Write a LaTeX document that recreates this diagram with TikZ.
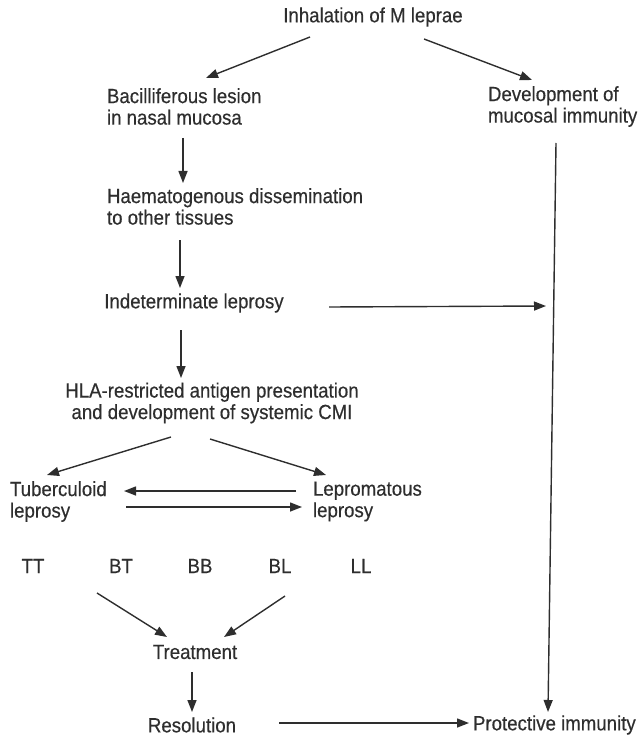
\documentclass[tikz,border=0pt]{standalone}
\usepackage{fontspec}
\setmainfont{Liberation Sans}[FakeStretch=0.91,FakeBold=0.4]
\usetikzlibrary{arrows.meta}
\definecolor{ink}{HTML}{2E2E2E}
\begin{document}
\begin{tikzpicture}[x=1pt,y=-1pt,
  every node/.style={inner sep=0pt,outer sep=0pt,text=ink,font=\fontsize{20.5}{21.5}\selectfont},
  lbl/.style={anchor=west,align=left},
  ctr/.style={anchor=center,align=center},
  arr/.style={draw=ink,line width=1.4pt,-{Triangle[length=12pt,width=9pt]}},
  plain/.style={draw=ink,line width=1.2pt}]
\useasboundingbox (0,0) rectangle (639,738);
% nodes
\node[ctr] (inh) at (373,17) {Inhalation of M leprae};
\node[lbl] (bac) at (107,106.5) {Bacilliferous lesion\\in nasal mucosa};
\node[lbl] (dev) at (488,106.5) {Development of\\mucosal immunity};
\node[lbl] (hae) at (107,206.5) {Haematogenous dissemination\\ to other tissues};
\node[ctr] (ind) at (194,303) {Indeterminate leprosy};
\node[ctr] (hla) at (212,403) {HLA-restricted antigen presentation\\and development of systemic CMI};
\node[lbl] (tub) at (10,501.5) {Tuberculoid\\leprosy};
\node[lbl] (lep) at (313,501.5) {Lepromatous\\leprosy};
\node[ctr] (tt) at (33,566) {TT};
\node[ctr] (bt) at (121,566) {BT};
\node[ctr] (bb) at (200,566) {BB};
\node[ctr] (bl) at (280,566) {BL};
\node[ctr] (ll) at (361,566) {LL};
\node[ctr] (treat) at (195,652) {Treatment};
\node[ctr] (res) at (192,725) {Resolution};
\node[lbl] (prot) at (473,725) {Protective immunity};
\coordinate (imm) at (546,306);
% connectors
\draw[arr] ([shift={(-63,20)}]inh.center) -- ([shift={(99,-28.5)}]bac.west);
\draw[arr] ([shift={(51,22)}]inh.center) -- ([shift={(44,-26.5)}]dev.west);
\draw[arr] ([shift={(76,31.5)}]bac.west) -- ([shift={(76,-23.5)}]hae.west);
\draw[arr] ([shift={(68,36.5)}]dev.west) -- ([shift={(75,-13)}]prot.west);
\draw[arr] ([shift={(73,33.5)}]hae.west) -- ([shift={(-14,-15)}]ind.center);
\draw[arr] ([shift={(135,4)}]ind.center) -- (imm);
\draw[arr] ([shift={(-13,27)}]ind.center) -- ([shift={(-31,-25)}]hla.center);
\draw[arr] ([shift={(-41,34)}]hla.center) -- ([shift={(37,-26.5)}]tub.west);
\draw[arr] ([shift={(-2,36)}]hla.center) -- ([shift={(13,-26.5)}]lep.west);
\draw[arr] ([shift={(-17,-10.5)}]lep.west) -- ([shift={(114,-10.5)}]tub.west);
\draw[arr] ([shift={(116,5.5)}]tub.west) -- ([shift={(-11,5.5)}]lep.west);
\draw[arr] ([shift={(-24,27)}]bt.center) -- ([shift={(-28,-15)}]treat.center);
\draw[arr] ([shift={(5,30)}]bl.center) -- ([shift={(29,-15)}]treat.center);
\draw[arr] ([shift={(-3,20)}]treat.center) -- ([shift={(0,-13)}]res.center);
\draw[arr] ([shift={(87,-2)}]res.center) -- ([shift={(-4,-2)}]prot.west);
\end{tikzpicture}
\end{document}
